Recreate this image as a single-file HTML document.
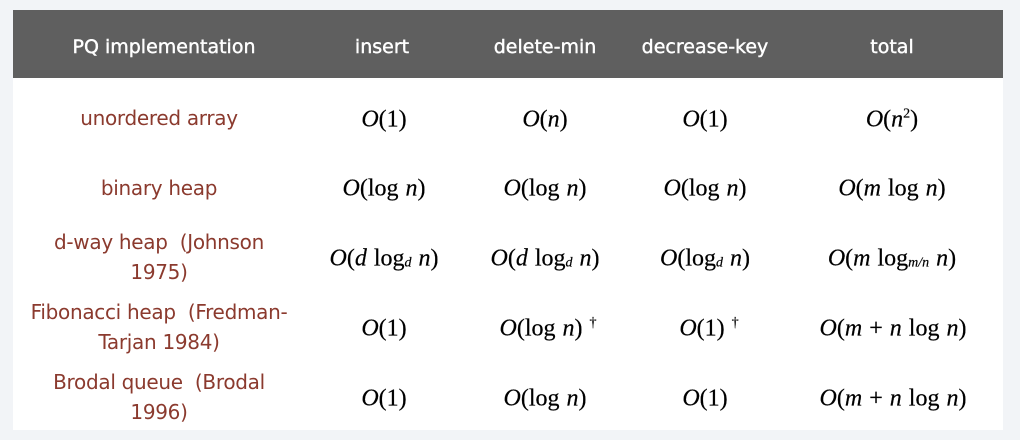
<!DOCTYPE html>
<html><head><style>
body{margin:0;width:1020px;height:440px;background:#f2f4f7;position:relative;overflow:hidden}
#w{position:absolute;left:13px;top:10px;width:990px;height:420px;background:#fff}
#h{position:absolute;left:13px;top:10px;width:990px;height:68px;background:#5f5f5f}
.c{position:absolute;transform:translate(-50%,-50%);text-align:center;white-space:nowrap}
.hd{color:#fff;font:19px "DejaVu Sans","Liberation Sans",sans-serif;-webkit-text-stroke:0.4px #fff}
.l{color:#8b3a2e;font:20px/30px "DejaVu Sans","Liberation Sans",sans-serif;letter-spacing:-0.3px}
.m{font:24px "Liberation Serif",serif;color:#000;-webkit-text-stroke:0.2px #000;word-spacing:1px}
sub,sup{font-size:14px}
sub{vertical-align:-1px}
</style></head><body>
<div id="w"></div><div id="h"></div>
<div class="c hd" style="left:164px;top:47px">PQ implementation</div>
<div class="c hd" style="left:382px;top:47px">insert</div>
<div class="c hd" style="left:545px;top:47px">delete-min</div>
<div class="c hd" style="left:705px;top:47px">decrease-key</div>
<div class="c hd" style="left:892px;top:47px">total</div>

<div class="c l" style="left:159px;top:118px">unordered array</div>
<div class="c m" style="left:384px;top:120px"><i>O</i>(1)</div>
<div class="c m" style="left:545px;top:120px"><i>O</i>(<i>n</i>)</div>
<div class="c m" style="left:705px;top:120px"><i>O</i>(1)</div>
<div class="c m" style="left:892px;top:120px"><i>O</i>(<i>n</i><sup>2</sup>)</div>

<div class="c l" style="left:159px;top:188px">binary heap</div>
<div class="c m" style="left:384px;top:189px"><i>O</i>(log <i>n</i>)</div>
<div class="c m" style="left:545px;top:189px"><i>O</i>(log <i>n</i>)</div>
<div class="c m" style="left:705px;top:189px"><i>O</i>(log <i>n</i>)</div>
<div class="c m" style="left:892px;top:189px"><i>O</i>(<i>m</i> log <i>n</i>)</div>

<div class="c l" style="left:159px;top:257px">d-way heap&nbsp; (Johnson<br>1975)</div>
<div class="c m" style="left:384px;top:259px"><i>O</i>(<i>d</i> log<sub><i>d</i></sub> <i>n</i>)</div>
<div class="c m" style="left:545px;top:259px"><i>O</i>(<i>d</i> log<sub><i>d</i></sub> <i>n</i>)</div>
<div class="c m" style="left:705px;top:259px"><i>O</i>(log<sub><i>d</i></sub> <i>n</i>)</div>
<div class="c m" style="left:892px;top:259px"><i>O</i>(<i>m</i> log<sub><i>m/n</i></sub> <i>n</i>)</div>

<div class="c l" style="left:159px;top:327px">Fibonacci heap&nbsp; (Fredman-<br>Tarjan 1984)</div>
<div class="c m" style="left:384px;top:329px"><i>O</i>(1)</div>
<div class="c m" style="left:548px;top:329px"><i>O</i>(log <i>n</i>) <sup>†</sup></div>
<div class="c m" style="left:709px;top:329px"><i>O</i>(1) <sup>†</sup></div>
<div class="c m" style="left:893px;top:329px"><i>O</i>(<i>m</i> + <i>n</i> log <i>n</i>)</div>

<div class="c l" style="left:159px;top:397px">Brodal queue&nbsp; (Brodal<br>1996)</div>
<div class="c m" style="left:384px;top:399px"><i>O</i>(1)</div>
<div class="c m" style="left:545px;top:399px"><i>O</i>(log <i>n</i>)</div>
<div class="c m" style="left:705px;top:399px"><i>O</i>(1)</div>
<div class="c m" style="left:893px;top:399px"><i>O</i>(<i>m</i> + <i>n</i> log <i>n</i>)</div>
</body></html>
